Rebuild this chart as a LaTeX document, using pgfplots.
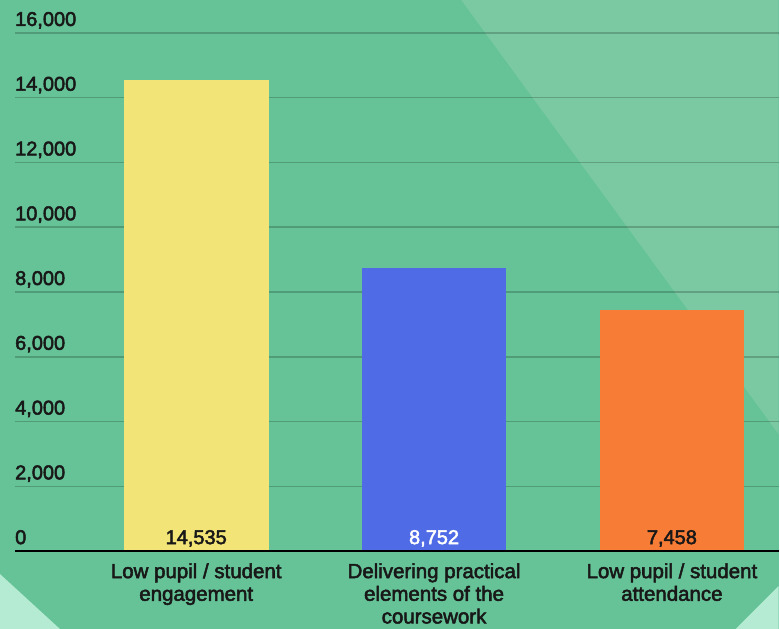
\documentclass[border=0pt]{standalone}
\usepackage{fontspec}
\setmainfont{Liberation Sans}
\newfontfamily\medfont{Liberation Sans}[FakeBold=2.5]
\usepackage{pgfplots}
\pgfplotsset{compat=1.18}

\definecolor{bggreen}{RGB}{101,195,151}
\definecolor{bglight}{RGB}{122,201,162}
\definecolor{mint}{RGB}{180,235,210}
\definecolor{ink}{RGB}{24,24,24}
\definecolor{barY}{RGB}{242,228,119}
\definecolor{barB}{RGB}{79,107,230}
\definecolor{barO}{RGB}{247,125,55}

\newcommand{\tickfont}{\medfont\fontsize{20}{23}\selectfont}
\newcommand{\catfont}{\medfont\fontsize{20.5}{22.7}\selectfont}

\pgfplotsset{
  valbar/.style={
    ybar, bar width=145pt, bar shift=0pt, draw=none, fill=#1,
    nodes near coords,
    visualization depends on={rawy \as \rawy},
    every node near coord/.append style={
      anchor=base, inner sep=0pt, yshift=7pt,
      shift={(axis direction cs:0,-\rawy)},
      font=\tickfont, text=ink},
  },
}

\begin{document}
\begin{tikzpicture}[x=1pt,y=1pt]
  % backdrop panels
  \fill[bggreen] (0,0) rectangle (780,630);
  \fill[bglight] (462,630) -- (780,630) -- (780,195) -- cycle;
  \fill[mint] (0,0) -- (0,55) -- (60,0) -- cycle;
  \fill[mint] (780,0) -- (780,43) -- (737,0) -- cycle;

  \begin{axis}[
    at={(15pt,78pt)}, anchor=south west,
    scale only axis, width=765pt, height=519pt,
    xmin=-0.762, xmax=2.449, ymin=0, ymax=16000,
    clip=false,
    axis line style={draw=none},
    major tick length=0pt,
    ymajorgrids,
    grid style={black, opacity=0.2, line width=1.5pt},
    ytick={0,2000,...,16000},
    scaled y ticks=false,
    /pgf/number format/fixed,
    /pgf/number format/precision=0,
    /pgf/number format/1000 sep={,},
    /pgf/number format/assume math mode=true,
    yticklabel style={anchor=base west, inner sep=0pt, yshift=7pt,
      font=\tickfont, text=ink},
    xtick={0,1,2},
    xticklabels={
      {Low pupil / student\\engagement},
      {Delivering practical\\elements of the\\coursework},
      {Low pupil / student\\attendance}},
    xticklabel style={align=center, anchor=north, inner sep=0pt,
      yshift=-12pt, font=\catfont, text=ink},
  ]
    \addplot[valbar=barY] coordinates {(0,14535)};
    \addplot[valbar=barB,
      every node near coord/.append style={text=white}] coordinates {(1,8752)};
    \addplot[valbar=barO] coordinates {(2,7458)};
    % baseline along the value axis zero
    \addplot[black, line width=2.6pt, sharp plot, mark=none]
      coordinates {(-0.762,0) (2.449,0)};
  \end{axis}
\end{tikzpicture}
\end{document}
